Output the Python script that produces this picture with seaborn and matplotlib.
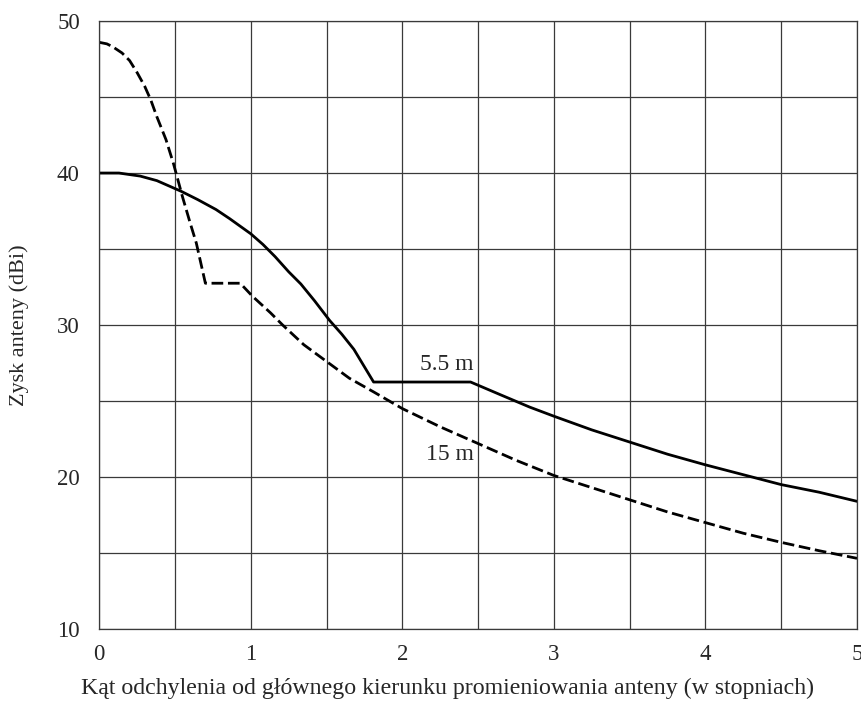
import matplotlib
matplotlib.use("Agg")
import matplotlib.pyplot as plt
import numpy as np
import pandas as pd
import seaborn as sns

# 5.5 m antenna (solid)
solid_angle = [0, 0.13, 0.27, 0.38, 0.46, 0.54, 0.65, 0.77, 0.86, 1.0, 1.08, 1.16, 1.25,
               1.33, 1.42, 1.52, 1.6, 1.68, 1.81, 2.45, 2.65, 2.84, 3.0, 3.25, 3.5, 3.75,
               4.0, 4.25, 4.5, 4.75, 5.0]
solid_gain = [40.0, 40.0, 39.8, 39.5, 39.15, 38.8, 38.25, 37.6, 37.0, 36.0, 35.3, 34.5,
              33.5, 32.7, 31.6, 30.3, 29.4, 28.4, 26.25, 26.25, 25.4, 24.6, 24.0, 23.1,
              22.3, 21.5, 20.8, 20.15, 19.5, 19.0, 18.4]

# 15 m antenna (dashed)
dashed_angle = [0, 0.05, 0.09, 0.15, 0.2, 0.25, 0.3, 0.34, 0.38, 0.44, 0.49, 0.55, 0.6,
                0.64, 0.70, 0.93, 1.01, 1.13, 1.21, 1.35, 1.5, 1.65, 1.81, 2.0, 2.25,
                2.5, 2.75, 3.0, 3.25, 3.5, 3.75, 4.0, 4.25, 4.5, 4.75, 5.0]
dashed_gain = [48.6, 48.5, 48.3, 47.9, 47.4, 46.6, 45.7, 44.8, 43.7, 42.2, 40.6, 38.4,
               36.7, 35.4, 32.75, 32.75, 31.9, 30.8, 30.0, 28.7, 27.6, 26.5, 25.6, 24.5,
               23.3, 22.2, 21.1, 20.1, 19.3, 18.5, 17.7, 17.0, 16.3, 15.7, 15.15, 14.65]

series_names = ["5.5 m", "15 m"]
x_ticks = [0, 1, 2, 3, 4, 5]
y_ticks = [10, 20, 30, 40, 50]

sns.set_theme(style="white")
plt.rcParams["font.family"] = ["Liberation Serif", "DejaVu Serif"]
plt.rcParams["font.size"] = 16

df = pd.concat([
    pd.DataFrame({"angle": solid_angle, "gain": solid_gain, "antenna": series_names[0]}),
    pd.DataFrame({"angle": dashed_angle, "gain": dashed_gain, "antenna": series_names[1]}),
])

fig = plt.figure(figsize=(8.62, 7.02), dpi=100)
ax = fig.add_axes([0.1152, 0.104, 0.8790, 0.866])

sns.lineplot(
    data=df, x="angle", y="gain", style="antenna",
    dashes={"5.5 m": "", "15 m": (4.2, 1.7)},
    color="black", linewidth=2.0, sort=False, legend=False, ax=ax,
)

ax.set_xlim(0, 5)
ax.set_ylim(10, 50)
ax.set_xticks(x_ticks)
ax.set_yticks(y_ticks)
ax.set_xticks(np.arange(0.5, 5, 1.0), minor=True)
ax.set_yticks(np.arange(15, 50, 10), minor=True)
ax.grid(True, which="both", color="#3a3a3a", linewidth=0.9)
ax.tick_params(which="both", length=0, labelsize=16.5)
ax.tick_params(axis="x", pad=11)
ax.tick_params(axis="y", pad=14)
for sp in ax.spines.values():
    sp.set_color("#3a3a3a")
    sp.set_linewidth(0.9)

ax.set_xlabel("Kąt odchylenia od głównego kierunku promieniowania anteny (w stopniach)",
              fontsize=17.2)
ax.xaxis.set_label_coords(0.459, -0.080)
ax.set_ylabel("Zysk anteny (dBi)", fontsize=16, labelpad=20)

ax.text(2.47, 26.7, series_names[0], ha="right", va="bottom", fontsize=17)
ax.text(2.47, 22.2, series_names[1], ha="right", va="top", fontsize=17)

fig.savefig("out.png", dpi=100)
